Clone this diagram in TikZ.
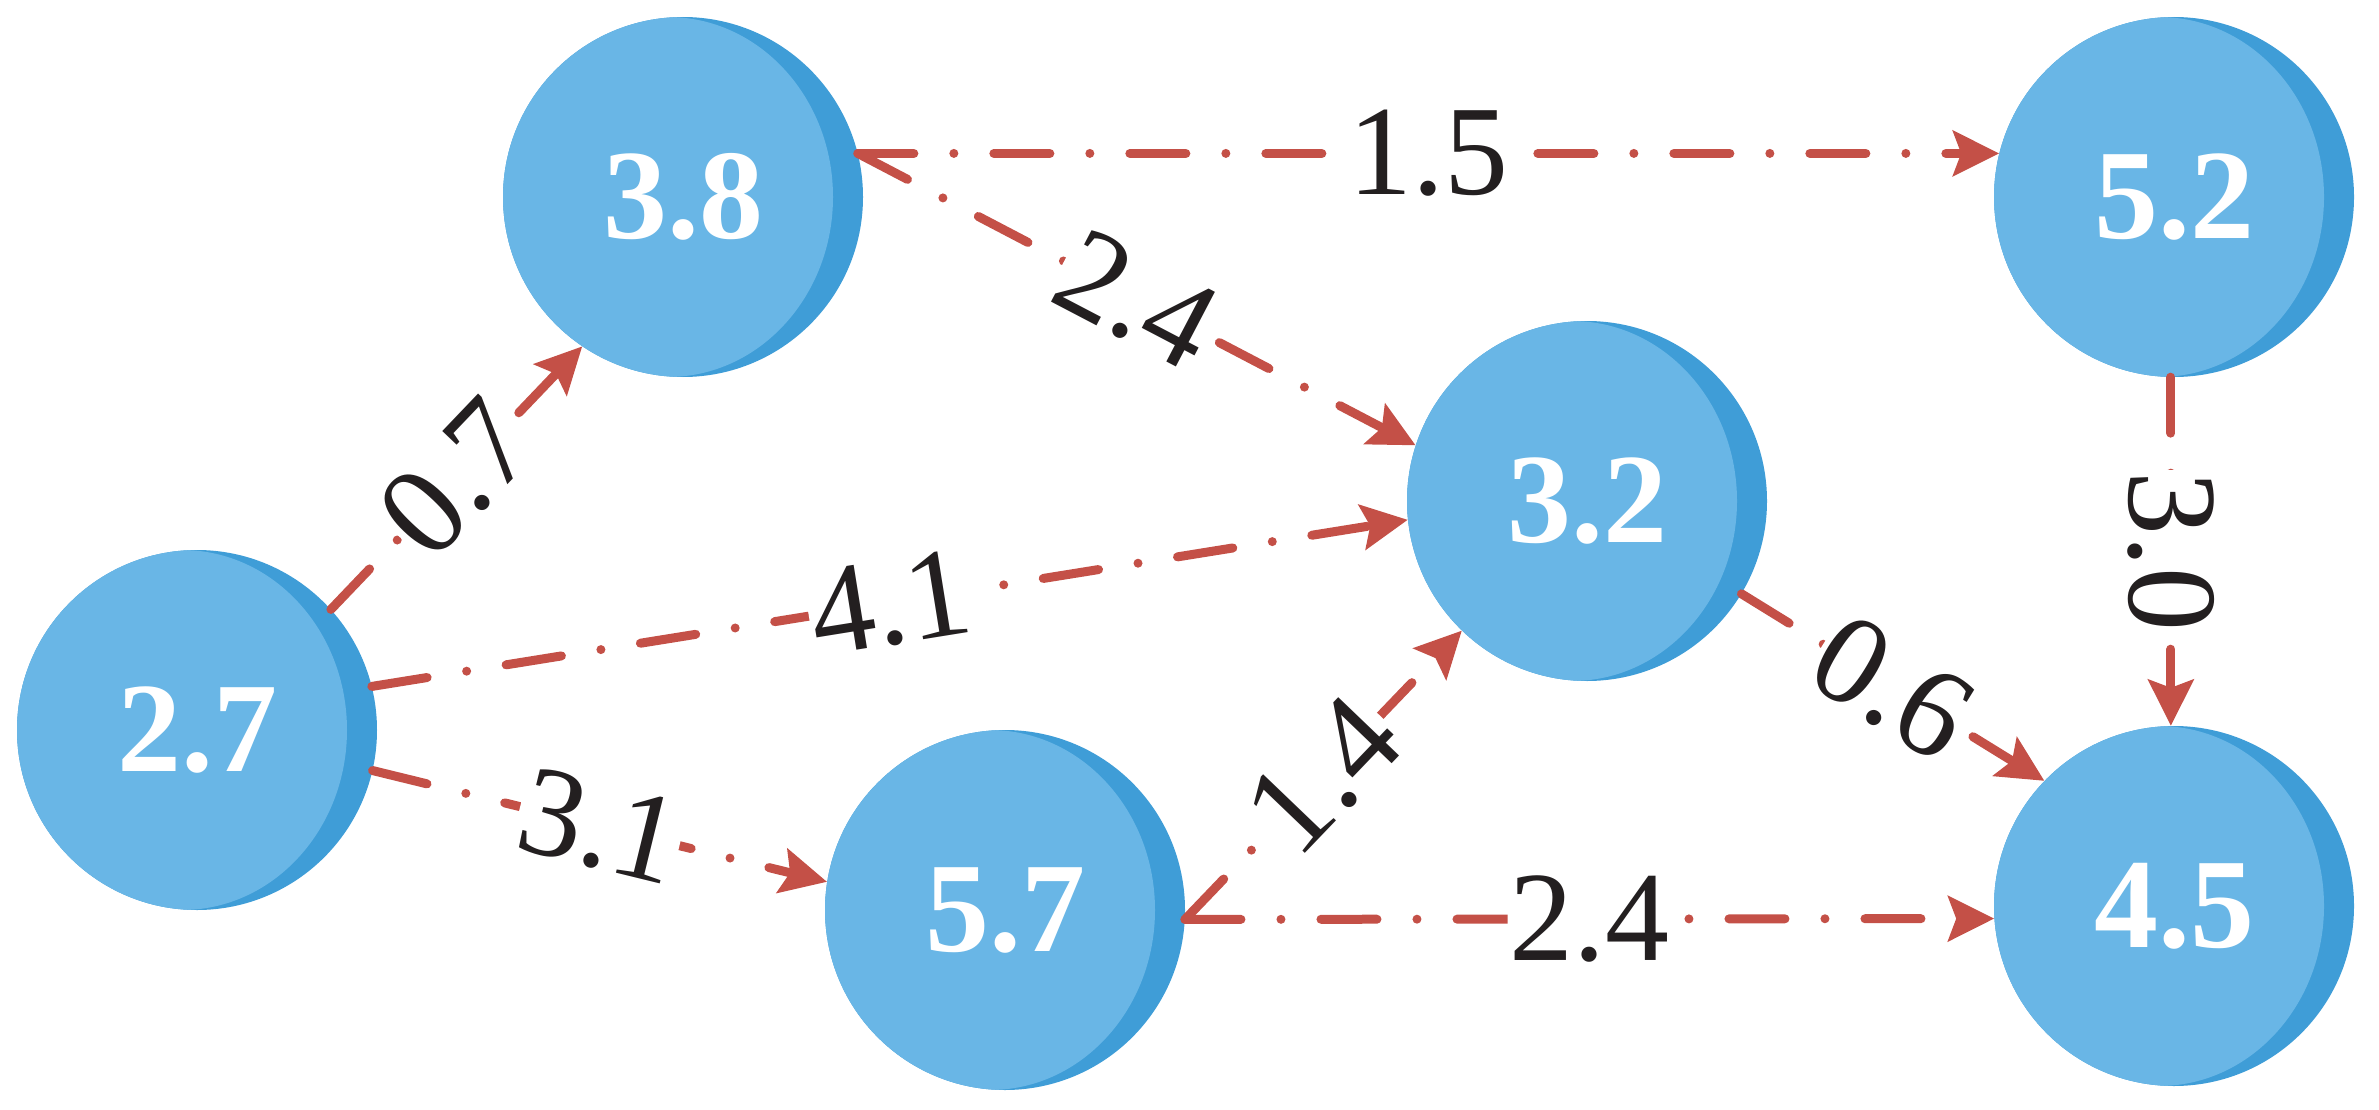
\documentclass[tikz,border=0pt]{standalone}
\usepackage{fontspec}
\setmainfont{Liberation Serif}
\usetikzlibrary{arrows.meta}
\definecolor{coinlight}{HTML}{69B6E6}
\definecolor{coindark}{HTML}{3F9DD7}
\definecolor{edgered}{HTML}{C45047}
\definecolor{lbltext}{HTML}{231F20}
\begin{document}
\begin{tikzpicture}[x=1pt,y=-1pt,
  coin/.style={circle, minimum size=360pt, inner sep=0pt, fill=coindark, text=white,
    font=\fontsize{128}{128}\selectfont\bfseries,
    path picture={\fill[coinlight] ([xshift=-15pt]path picture bounding box.center) ellipse [x radius=165pt, y radius=180pt];}},
  flow/.style={draw=edgered, line width=9pt, line cap=round,
    dash pattern=on 56pt off 40pt on 0pt off 40pt,
    -{Stealth[length=46pt,width=45pt,inset=8pt]}},
  lbl/.style={fill=white, text=lbltext, inner sep=2pt, font=\fontsize{128}{128}\selectfont}]
\useasboundingbox (0,0) rectangle (2379,1110);

\node[coin] (n27) at (197,730) {2.7};
\node[coin] (n38) at (683,197) {3.8};
\node[coin] (n32) at (1587,501) {3.2};
\node[coin] (n57) at (1005,910) {5.7};
\node[coin] (n52) at (2174,197) {5.2};
\node[coin] (n45) at (2174,906) {4.5};

\draw[flow] (n27.42) -- node[lbl,midway,sloped] {0.7} (n38.236);
\draw[flow] (n38.14) -- node[lbl,midway,sloped] {1.5} (n52.166);
\draw[flow] (n38.14) -- node[lbl,midway,sloped] {2.4} (n32.162);
\draw[flow] (n27.14) -- node[lbl,midway,sloped] {4.1} (n32.186);
\draw[flow] (n27.347) -- node[lbl,midway,sloped] {3.1} (n57.171);
\draw[flow] (n57.357) -- node[lbl,midway,sloped] {1.4} (n32.226);
\draw[flow] (n57.357) -- node[lbl,midway,sloped] {2.4} (n45.184);
\draw[flow] (n32.329) -- node[lbl,midway,sloped] {0.6} (n45.136);
\draw[flow] (n52.269) -- node[lbl,midway,rotate=-90] {3.0} (n45.91);
\end{tikzpicture}
\end{document}
